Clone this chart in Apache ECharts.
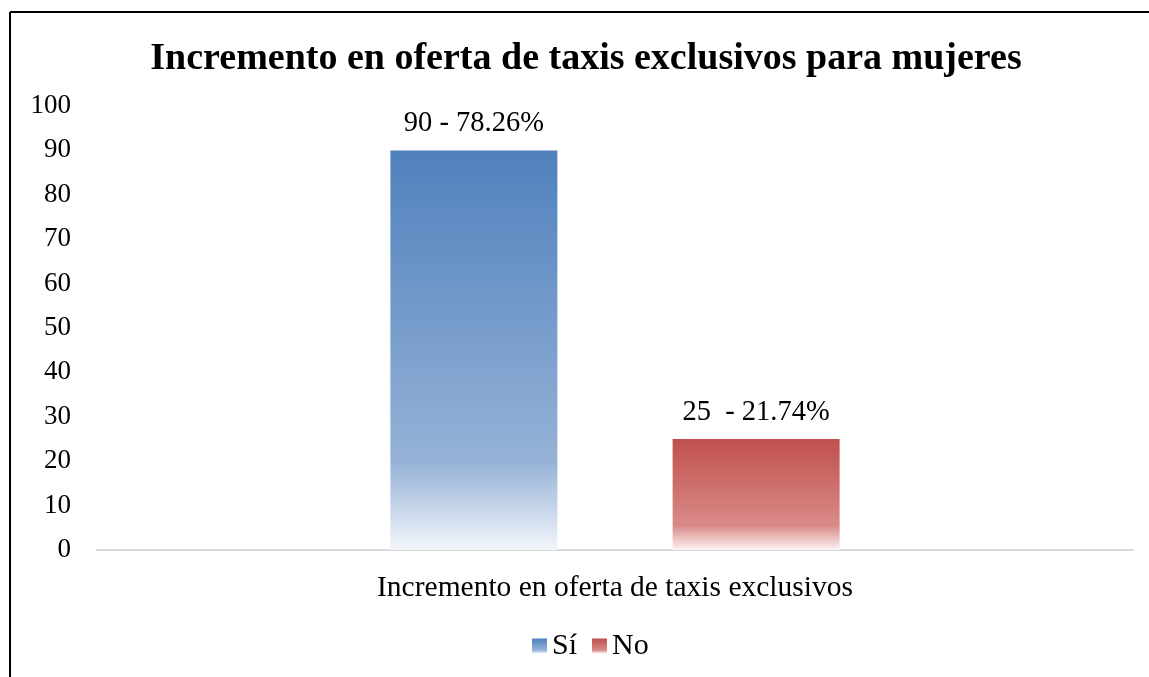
<!DOCTYPE html>
<html>
<head>
<meta charset="utf-8">
<script src="https://cdn.jsdelivr.net/npm/echarts@6/dist/echarts.min.js"></script>
<style>
html,body{margin:0;padding:0;background:#fff;}
#c{width:1149px;height:677px;}
</style>
</head>
<body>
<div id="c"></div>
<script>
const titleText = 'Incremento en oferta de taxis exclusivos para mujeres';
const categories = ['Incremento en oferta de taxis exclusivos'];
const seriesNames = ['Sí', 'No'];
const siValues = [90];
const noValues = [25];
const siLabels = ['90 - 78.26%'];
const noLabels = ['25  - 21.74%'];
const yTicks = [0, 10, 20, 30, 40, 50, 60, 70, 80, 90, 100];

const font = '"Liberation Serif", "Times New Roman", serif';

function grad(top, mid, bottom) {
  return new echarts.graphic.LinearGradient(0, 0, 0, 1, [
    { offset: 0, color: top },
    { offset: 0.78, color: mid },
    { offset: 1, color: bottom }
  ]);
}
const blueGrad = grad('#4f81bd', '#96b2d7', '#f3f6fb');
const redGrad = grad('#c0504d', '#d98a88', '#fdf3f3');

const chart = echarts.init(document.getElementById('c'), null, { renderer: 'canvas' });
chart.setOption({
  animation: false,
  backgroundColor: '#fff',
  title: {
    text: titleText,
    left: 581, textAlign: 'center',
    top: 35,
    textStyle: { fontFamily: font, fontSize: 38, fontWeight: 'bold', color: '#000' }
  },
  legend: {
    data: seriesNames,
    left: 527,
    top: 626,
    itemWidth: 15, itemHeight: 15,
    itemGap: 15,
    icon: 'rect',
    textStyle: { fontFamily: font, fontSize: 30, color: '#000', padding: [0, 0, 0, 0] }
  },
  grid: { left: 97, right: 16, top: 106, bottom: 127, containLabel: false },
  xAxis: {
    type: 'category',
    data: categories,
    axisLine: { lineStyle: { color: '#d9d9d9', width: 2 } },
    axisTick: { show: false },
    axisLabel: { fontFamily: font, fontSize: 29.5, color: '#000', margin: 23 }
  },
  yAxis: {
    type: 'value',
    min: 0, max: 100, interval: 10,
    axisLine: { show: false },
    axisTick: { show: false },
    splitLine: { show: false },
    axisLabel: { fontFamily: font, fontSize: 27, color: '#000', margin: 26,
      formatter: v => yTicks.includes(v) ? String(v) : '' }
  },
  series: [
    {
      name: seriesNames[0], type: 'bar', data: siValues,
      barWidth: 167, barGap: '69%',
      itemStyle: { color: blueGrad },
      label: { show: true, position: 'top', distance: 12,
        fontFamily: font, fontSize: 28.5, color: '#000',
        formatter: p => siLabels[p.dataIndex] }
    },
    {
      name: seriesNames[1], type: 'bar', data: noValues,
      barWidth: 167,
      itemStyle: { color: redGrad },
      label: { show: true, position: 'top', distance: 12,
        fontFamily: font, fontSize: 28.5, color: '#000',
        formatter: p => noLabels[p.dataIndex] }
    }
  ],
  graphic: [
    { type: 'line', shape: { x1: 10, y1: 12, x2: 1149, y2: 12 }, style: { stroke: '#000', lineWidth: 2 } },
    { type: 'line', shape: { x1: 10, y1: 12, x2: 10, y2: 677 }, style: { stroke: '#000', lineWidth: 2 } }
  ]
});
</script>
</body>
</html>
